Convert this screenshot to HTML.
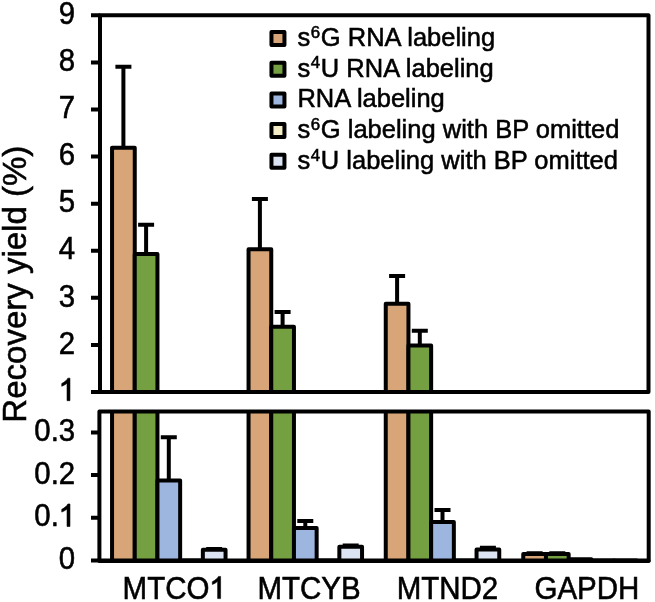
<!DOCTYPE html><html><head><meta charset="utf-8"><style>html,body{margin:0;padding:0;background:#fff;}svg{display:block;will-change:transform;}text{font-family:"Liberation Sans",sans-serif;fill:#000;stroke:#000;stroke-width:0.55px;}</style></head><body><svg width="655" height="602" viewBox="0 0 655 602"><defs><clipPath id="cu"><rect x="100.0" y="15.3" width="548.5" height="376.7"/></clipPath><clipPath id="cl"><rect x="99.4" y="411.6" width="549.3000000000001" height="148.89999999999998"/></clipPath></defs><g clip-path="url(#cu)" stroke="#000" stroke-width="4" stroke-linejoin="round" stroke-linecap="butt"><rect x="112.05" y="147.65" width="22.70" height="254.35" fill="#D7A577"/><path d="M123.40 147.65V66.82M115.40 66.82H131.40" fill="none"/><rect x="134.75" y="254.06" width="22.70" height="147.94" fill="#75A042"/><path d="M146.10 254.06V224.87M138.10 224.87H154.10" fill="none"/><rect x="248.55" y="249.35" width="22.70" height="152.65" fill="#D7A577"/><path d="M259.90 249.35V198.97M251.90 198.97H267.90" fill="none"/><rect x="271.25" y="326.79" width="22.70" height="75.21" fill="#75A042"/><path d="M282.60 326.79V311.96M274.60 311.96H290.60" fill="none"/><rect x="385.75" y="303.73" width="22.70" height="98.27" fill="#D7A577"/><path d="M397.10 303.73V275.90M389.10 275.90H405.10" fill="none"/><rect x="408.45" y="345.39" width="22.70" height="56.61" fill="#75A042"/><path d="M419.80 345.39V330.80M411.80 330.80H427.80" fill="none"/></g><g clip-path="url(#cl)" stroke="#000" stroke-width="4" stroke-linejoin="round" stroke-linecap="butt"><rect x="112.05" y="-2082.63" width="22.70" height="2653.13" fill="#D7A577"/><path d="M123.40 -2082.63V-2815.79M115.40 -2815.79H131.40" fill="none"/><rect x="134.75" y="-1117.61" width="22.70" height="1688.11" fill="#75A042"/><path d="M146.10 -1117.61V-1382.35M138.10 -1382.35H154.10" fill="none"/><rect x="157.45" y="480.44" width="22.70" height="90.06" fill="#9DB6E0"/><path d="M168.80 480.44V437.31M160.80 437.31H176.80" fill="none"/><rect x="180.15" y="560.50" width="22.70" height="10.00" fill="#F4EDC6"/><rect x="202.85" y="549.83" width="22.70" height="20.67" fill="#DCE4F3"/><path d="M214.20 549.83V548.97M206.20 548.97H222.20" fill="none"/><rect x="248.55" y="-1160.31" width="22.70" height="1730.81" fill="#D7A577"/><path d="M259.90 -1160.31V-1617.20M251.90 -1617.20H267.90" fill="none"/><rect x="271.25" y="-457.89" width="22.70" height="1028.39" fill="#75A042"/><path d="M282.60 -457.89V-592.40M274.60 -592.40H290.60" fill="none"/><rect x="293.95" y="528.05" width="22.70" height="42.45" fill="#9DB6E0"/><path d="M305.30 528.05V521.00M297.30 521.00H313.30" fill="none"/><rect x="316.65" y="560.50" width="22.70" height="10.00" fill="#F4EDC6"/><rect x="339.35" y="546.84" width="22.70" height="23.66" fill="#DCE4F3"/><path d="M350.70 546.84V545.55M342.70 545.55H358.70" fill="none"/><rect x="385.75" y="-667.12" width="22.70" height="1237.62" fill="#D7A577"/><path d="M397.10 -667.12V-919.48M389.10 -919.48H405.10" fill="none"/><rect x="408.45" y="-289.23" width="22.70" height="859.73" fill="#75A042"/><path d="M419.80 -289.23V-421.60M411.80 -421.60H427.80" fill="none"/><rect x="431.15" y="522.07" width="22.70" height="48.43" fill="#9DB6E0"/><path d="M442.50 522.07V510.11M434.50 510.11H450.50" fill="none"/><rect x="453.85" y="560.50" width="22.70" height="10.00" fill="#F4EDC6"/><rect x="476.55" y="549.40" width="22.70" height="21.10" fill="#DCE4F3"/><path d="M487.90 549.40V547.69M479.90 547.69H495.90" fill="none"/><rect x="523.25" y="554.10" width="22.70" height="16.40" fill="#D7A577"/><path d="M534.60 554.10V553.24M526.60 553.24H542.60" fill="none"/><rect x="545.95" y="554.10" width="22.70" height="16.40" fill="#75A042"/><path d="M557.30 554.10V553.24M549.30 553.24H565.30" fill="none"/><rect x="568.65" y="559.22" width="22.70" height="11.28" fill="#9DB6E0"/><rect x="591.35" y="560.50" width="22.70" height="10.00" fill="#F4EDC6"/><rect x="614.05" y="560.50" width="22.70" height="10.00" fill="#DCE4F3"/></g><path d="M100.0 392.0V15.3H648.5V392.0Z" fill="none" stroke="#000" stroke-width="4" stroke-linejoin="round"/><path d="M99.4 560.5V411.6H648.7V560.5Z" fill="none" stroke="#000" stroke-width="4" stroke-linejoin="round"/><path d="M99.4 561.0H648.7" stroke="#000" stroke-width="4" stroke-linecap="round" fill="none"/><path d="M91 392.00H100.0M91 344.92H100.0M91 297.84H100.0M91 250.76H100.0M91 203.68H100.0M91 156.60H100.0M91 109.52H100.0M91 62.44H100.0M91 15.36H100.0M91 560.50H99.4M91 517.80H99.4M91 475.10H99.4M91 432.40H99.4" stroke="#000" stroke-width="4" fill="none"/><g transform="matrix(0.98 0 0 1.05 1.504 -17.681)"><text x="75.2" y="353.62" font-size="30" text-anchor="end">2</text></g><g transform="matrix(0.98 0 0 1.05 1.504 -15.327)"><text x="75.2" y="306.54" font-size="30" text-anchor="end">3</text></g><g transform="matrix(0.98 0 0 1.05 1.504 -12.973)"><text x="75.2" y="259.46" font-size="30" text-anchor="end">4</text></g><g transform="matrix(0.98 0 0 1.05 1.504 -10.619)"><text x="75.2" y="212.38" font-size="30" text-anchor="end">5</text></g><g transform="matrix(0.98 0 0 1.05 1.504 -8.265)"><text x="75.2" y="165.30" font-size="30" text-anchor="end">6</text></g><g transform="matrix(0.98 0 0 1.05 1.504 -5.911)"><text x="75.2" y="118.22" font-size="30" text-anchor="end">7</text></g><g transform="matrix(0.98 0 0 1.05 1.504 -3.557)"><text x="75.2" y="71.14" font-size="30" text-anchor="end">8</text></g><g transform="matrix(0.98 0 0 1.05 1.504 -1.203)"><text x="75.2" y="24.06" font-size="30" text-anchor="end">9</text></g><g transform="matrix(0.98 0 0 1.05 1.504 -20.035)"><path transform="translate(58.52 400.70) scale(0.01465 -0.01465)" d="M775 0H568V1140C520 1096 460 1055 390 1018C320 981 258 955 200 937V1115C295 1158 383 1212 460 1277C537 1342 592 1405 625 1466H775Z" stroke="#000" stroke-width="37.5"/></g><g transform="matrix(0.98 0 0 1.05 1.504 -28.460)"><text x="75.2" y="569.20" font-size="30" text-anchor="end">0</text></g><g transform="matrix(0.98 0 0 1.05 1.504 -24.190)"><text x="75.2" y="483.80" font-size="30" text-anchor="end">0.2</text></g><g transform="matrix(0.98 0 0 1.05 1.504 -22.055)"><text x="75.2" y="441.10" font-size="30" text-anchor="end">0.3</text></g><g transform="matrix(0.98 0 0 1.05 1.504 -26.325)"><text x="58.52" y="526.50" font-size="30" text-anchor="end">0.</text><path transform="translate(58.52 526.50) scale(0.01465 -0.01465)" d="M775 0H568V1140C520 1096 460 1055 390 1018C320 981 258 955 200 937V1115C295 1158 383 1212 460 1277C537 1342 592 1405 625 1466H775Z" stroke="#000" stroke-width="37.5"/></g><g transform="matrix(1 0 0 1.05 0 -29.93)"><text x="122.6" y="598.6" font-size="29.5">MTCO</text><path transform="translate(209.44 598.60) scale(0.01440 -0.01440)" d="M775 0H568V1140C520 1096 460 1055 390 1018C320 981 258 955 200 937V1115C295 1158 383 1212 460 1277C537 1342 592 1405 625 1466H775Z" stroke="#000" stroke-width="38.2"/><text x="257.5" y="598.6" font-size="29.5">MTCYB</text><text x="396.7" y="598.6" font-size="29.5">MTND2</text><text x="534.5" y="598.6" font-size="29.5">GAPDH</text></g><text transform="translate(26.0 284.2) rotate(-90)" font-size="33" text-anchor="middle">Recovery yield (%)</text><rect x="271.45" y="31.95" width="13" height="13" fill="#D7A577" stroke="#000" stroke-width="4" stroke-linejoin="round"/><text transform="matrix(0.9925 0 0 1 2.230 0)" x="297.4" y="46.00" font-size="25.7">s<tspan dx="0.5" dy="-8.3" font-size="17">6</tspan><tspan dx="0.8" dy="8.3">G RNA labeling</tspan></text><rect x="271.45" y="62.68" width="13" height="13" fill="#75A042" stroke="#000" stroke-width="4" stroke-linejoin="round"/><text transform="matrix(0.9925 0 0 1 2.230 0)" x="297.4" y="76.73" font-size="25.7">s<tspan dx="0.5" dy="-8.3" font-size="17">4</tspan><tspan dx="0.8" dy="8.3">U RNA labeling</tspan></text><rect x="271.45" y="93.40" width="13" height="13" fill="#9DB6E0" stroke="#000" stroke-width="4" stroke-linejoin="round"/><text transform="matrix(0.9925 0 0 1 2.230 0)" x="297.4" y="107.45" font-size="25.7">RNA labeling</text><rect x="271.45" y="124.12" width="13" height="13" fill="#F4EDC6" stroke="#000" stroke-width="4" stroke-linejoin="round"/><text transform="matrix(0.9925 0 0 1 2.230 0)" x="297.4" y="138.18" font-size="25.7">s<tspan dx="0.5" dy="-8.3" font-size="17">6</tspan><tspan dx="0.8" dy="8.3">G labeling with BP omitted</tspan></text><rect x="271.45" y="154.85" width="13" height="13" fill="#DCE4F3" stroke="#000" stroke-width="4" stroke-linejoin="round"/><text transform="matrix(0.9925 0 0 1 2.230 0)" x="297.4" y="168.90" font-size="25.7">s<tspan dx="0.5" dy="-8.3" font-size="17">4</tspan><tspan dx="0.8" dy="8.3">U labeling with BP omitted</tspan></text></svg></body></html>
